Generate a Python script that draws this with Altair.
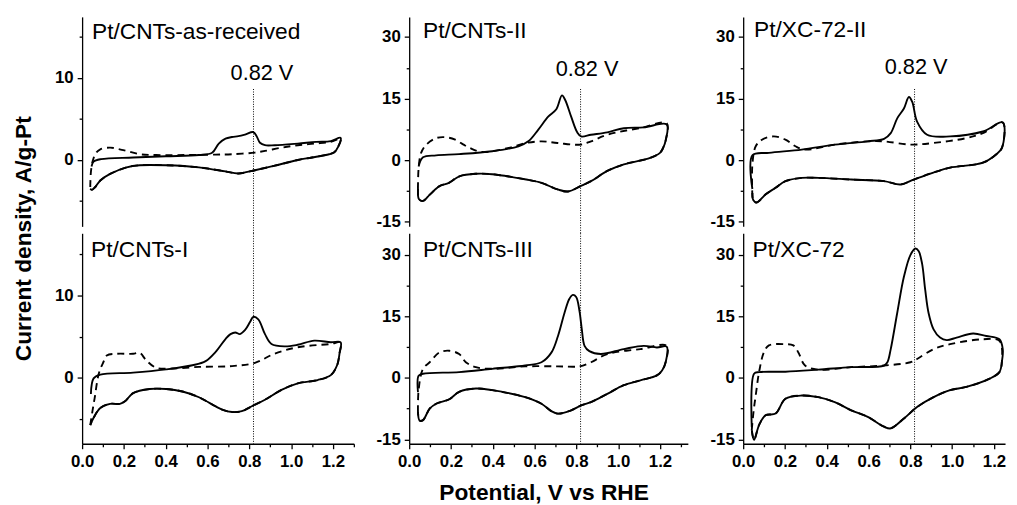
import altair as alt
import pandas as pd

# ---------------- data ----------------
PANEL_LABELS = ["Pt/CNTs-as-received", "Pt/CNTs-II", "Pt/XC-72-II",
                "Pt/CNTs-I", "Pt/CNTs-III", "Pt/XC-72"]
MARK_V = [0.82]
MARK_LABEL = "0.82 V"
X_TITLE = "Potential, V vs RHE"
Y_TITLE = "Current density, A/g-Pt"

X_TICKS = [0.0, 0.1, 0.2, 0.3, 0.4, 0.5, 0.6, 0.7, 0.8, 0.9, 1.0, 1.1, 1.2, 1.3]
Y_TICKS_LEFT = [-5, 0, 5, 10, 15]
Y_TICKS_WIDE = [-15, -7.5, 0, 7.5, 15, 22.5, 30]

# Panel 1: Pt/CNTs-as-received
P1_SOL_V = [0.045, 0.055, 0.09, 0.244, 0.40, 0.559, 0.622, 0.654, 0.686, 0.717, 0.748, 0.78, 0.819, 0.835, 0.851, 0.875, 0.922, 1.032, 1.12, 1.19, 1.237]
P1_SOL_I = [-0.8, -0.2, 0.1, 0.3, 0.45, 0.6, 0.88, 2.0, 2.6, 2.8, 2.9, 3.1, 3.4, 2.9, 2.1, 1.8, 1.8, 2.0, 2.2, 2.3, 2.7]
P1_DSH_V = [0.039, 0.042, 0.050, 0.065, 0.087, 0.134, 0.197, 0.276, 0.354, 0.496, 0.638, 0.717, 0.827, 0.875, 0.954, 1.032, 1.111, 1.19, 1.237]
P1_DSH_I = [-3.3, -1.5, -0.2, 0.8, 1.3, 1.5, 1.2, 0.7, 0.6, 0.6, 0.65, 0.7, 0.9, 1.1, 1.5, 1.8, 2.0, 2.2, 2.6]
P1_CAT_V = [1.225, 1.205, 1.182, 1.10, 1.032, 0.922, 0.827, 0.748, 0.686, 0.559, 0.402, 0.276, 0.213, 0.134, 0.087, 0.063, 0.047, 0.039]
P1_CAT_I = [1.6, 0.9, 0.7, 0.3, 0.0, -0.7, -1.25, -1.65, -1.4, -0.9, -0.65, -0.65, -0.9, -1.7, -2.5, -3.3, -3.65, -3.5]

# Panel 2: Pt/CNTs-II
P2_SOL_V = [0.045, 0.066, 0.129, 0.239, 0.397, 0.523, 0.570, 0.617, 0.665, 0.704, 0.731, 0.747, 0.775, 0.804, 0.823, 0.870, 0.948, 1.027, 1.122, 1.232]
P2_SOL_I = [-1.5, 0.7, 1.2, 1.5, 2.2, 3.4, 4.6, 7.4, 10.6, 12.4, 15.8, 14.6, 10.6, 6.8, 5.8, 6.2, 6.8, 7.8, 8.0, 8.7]
P2_DSH_V = [0.042, 0.045, 0.057, 0.082, 0.13, 0.175, 0.22, 0.26, 0.29, 0.35, 0.476, 0.56, 0.633, 0.71, 0.82, 0.87, 0.948, 1.11, 1.232]
P2_DSH_I = [-7.0, -2.0, 1.8, 3.8, 5.4, 5.6, 5.0, 3.8, 3.0, 2.0, 3.0, 4.2, 4.6, 4.2, 3.8, 4.6, 6.2, 7.9, 9.0]
P2_CAT_V = [1.228, 1.215, 1.2, 1.153, 1.027, 0.948, 0.870, 0.82, 0.76, 0.71, 0.633, 0.56, 0.397, 0.32, 0.24, 0.19, 0.145, 0.10, 0.066, 0.047, 0.042]
P2_CAT_I = [5.0, 3.0, 1.8, 0.56, -1.0, -2.6, -5.1, -6.3, -7.6, -7.1, -5.5, -4.7, -3.4, -3.3, -3.9, -5.5, -6.3, -8.3, -9.9, -9.5, -7.0]

# Panel 3: Pt/XC-72-II
P3_SOL_V = [0.044, 0.044, 0.123, 0.28, 0.438, 0.596, 0.674, 0.706, 0.737, 0.769, 0.793, 0.809, 0.832, 0.88, 0.99, 1.147, 1.242]
P3_SOL_I = [-7.0, 1.2, 1.8, 2.6, 3.8, 4.6, 5.2, 6.6, 10.2, 12.6, 15.4, 14.2, 9.4, 6.2, 5.8, 7.0, 9.2]
P3_DSH_V = [0.044, 0.044, 0.06, 0.09, 0.146, 0.202, 0.25, 0.296, 0.438, 0.596, 0.674, 0.80, 0.91, 1.068, 1.147, 1.242]
P3_DSH_I = [-9.0, -1.0, 3.4, 5.0, 5.8, 5.0, 3.4, 2.6, 3.8, 4.6, 4.6, 3.8, 4.2, 5.4, 6.6, 9.2]
P3_CAT_V = [1.238, 1.21, 1.147, 0.99, 0.91, 0.816, 0.753, 0.674, 0.517, 0.36, 0.28, 0.202, 0.155, 0.108, 0.064, 0.048, 0.044]
P3_CAT_I = [3.0, 1.4, -0.6, -1.8, -3.0, -4.7, -5.9, -5.1, -4.7, -4.3, -4.3, -5.1, -6.7, -8.3, -10.3, -9.7, -8.0]

# Panel 4: Pt/CNTs-I
P4_SOL_V = [0.042, 0.055, 0.087, 0.244, 0.402, 0.528, 0.591, 0.638, 0.686, 0.71, 0.733, 0.755, 0.78, 0.804, 0.819, 0.843, 0.875, 0.906, 0.969, 1.032, 1.111, 1.19, 1.237]
P4_SOL_I = [-2.0, -0.1, 0.36, 0.6, 1.0, 1.5, 2.0, 3.1, 4.7, 5.3, 5.5, 5.3, 5.8, 6.8, 7.4, 7.1, 5.3, 4.1, 3.8, 4.0, 4.5, 4.3, 4.3]
P4_DSH_V = [0.039, 0.05, 0.06, 0.08, 0.102, 0.118, 0.165, 0.244, 0.276, 0.307, 0.354, 0.433, 0.559, 0.717, 0.827, 0.92, 1.032, 1.19, 1.237]
P4_DSH_I = [-5.8, -4.0, -2.5, 0.5, 1.9, 2.7, 2.9, 2.9, 3.0, 2.1, 1.2, 1.1, 1.3, 1.4, 1.8, 2.9, 3.7, 4.1, 4.3]
P4_CAT_V = [1.232, 1.22, 1.19, 1.127, 1.032, 0.954, 0.875, 0.812, 0.764, 0.717, 0.67, 0.638, 0.559, 0.48, 0.402, 0.323, 0.244, 0.205, 0.181, 0.134, 0.087, 0.055, 0.039]
P4_CAT_I = [3.0, 1.5, 0.3, -0.3, -0.7, -1.5, -2.7, -3.5, -4.1, -4.2, -3.9, -3.5, -2.4, -1.7, -1.4, -1.4, -1.9, -2.9, -3.2, -3.2, -3.7, -4.9, -5.8]

# Panel 5: Pt/CNTs-III
P5_SOL_V = [0.042, 0.045, 0.066, 0.239, 0.397, 0.555, 0.633, 0.681, 0.712, 0.743, 0.766, 0.783, 0.799, 0.815, 0.826, 0.839, 0.862, 0.917, 1.027, 1.122, 1.185, 1.232]
P5_SOL_I = [-3.5, 0.5, 1.0, 1.4, 2.2, 3.0, 3.8, 6.2, 10.2, 15.8, 19.2, 20.2, 19.7, 16.2, 11.8, 7.8, 6.5, 5.8, 7.0, 7.8, 7.4, 7.6]
P5_DSH_V = [0.042, 0.045, 0.066, 0.098, 0.145, 0.192, 0.239, 0.271, 0.319, 0.397, 0.555, 0.712, 0.815, 0.87, 0.948, 1.106, 1.232]
P5_DSH_I = [-8.3, -3.0, 2.2, 3.8, 6.2, 6.6, 5.8, 3.8, 2.6, 2.2, 2.8, 2.8, 2.8, 3.8, 5.8, 7.0, 7.8]
P5_CAT_V = [1.228, 1.21, 1.185, 1.106, 1.027, 0.948, 0.87, 0.823, 0.775, 0.712, 0.68, 0.633, 0.555, 0.397, 0.319, 0.239, 0.192, 0.129, 0.098, 0.066, 0.05, 0.042]
P5_CAT_I = [4.0, 1.8, 0.6, -0.6, -1.8, -3.9, -5.9, -6.7, -7.9, -8.7, -8.1, -6.3, -4.7, -3.0, -2.6, -3.4, -5.2, -6.3, -7.5, -10.3, -10.4, -8.3]

# Panel 6: Pt/XC-72
P6_SOL_V = [0.041, 0.052, 0.076, 0.202, 0.359, 0.517, 0.674, 0.69, 0.706, 0.737, 0.769, 0.80, 0.824, 0.84, 0.856, 0.871, 0.887, 0.911, 0.942, 0.974, 1.021, 1.1, 1.163, 1.226, 1.242]
P6_SOL_I = [-12.0, 1.0, 1.4, 1.5, 2.0, 2.6, 3.0, 3.8, 7.0, 15.8, 24.6, 29.9, 31.5, 30.8, 27.8, 21.4, 15.8, 11.8, 9.8, 9.2, 9.8, 10.8, 10.2, 9.4, 7.0]
P6_DSH_V = [0.041, 0.05, 0.06, 0.076, 0.099, 0.123, 0.202, 0.24, 0.264, 0.296, 0.359, 0.517, 0.674, 0.80, 0.832, 0.911, 0.99, 1.147, 1.226]
P6_DSH_I = [-12.7, -8.0, -4.3, 1.4, 6.2, 7.9, 8.2, 7.9, 6.2, 3.0, 2.0, 2.6, 3.0, 3.8, 4.6, 7.0, 8.2, 9.4, 9.0]
P6_CAT_V = [1.238, 1.226, 1.179, 1.068, 0.99, 0.911, 0.832, 0.769, 0.706, 0.674, 0.596, 0.517, 0.438, 0.359, 0.28, 0.202, 0.155, 0.107, 0.076, 0.052, 0.041]
P6_CAT_I = [4.0, 1.4, -0.2, -2.2, -3.0, -4.7, -7.1, -9.9, -12.3, -11.9, -9.5, -7.9, -5.9, -4.7, -4.3, -5.1, -8.7, -9.1, -11.5, -15.1, -12.7]

# ---------------- layout / style ----------------
FONT = "Liberation Sans"
PX_PER_V = 211.5
COL_W = [275, 282, 265]
ROW_H = [212, 213]
ROW_GAP = 7
COL_GAP = 56
Y_DOM = {
    (0, 0): [-8.1, 17.45], (1, 0): [-8.07, 17.59],
    (0, 1): [-16.1, 34.9], (1, 1): [-16.05, 35.2],
}
LABEL_POS = [(10, 22), (14, 21), (11, 20.5), (9, 24), (14, 24), (9.5, 24)]
MARK_POS = [(182, 64), (180, 60), (175, 58)]


def loop_df(av, ai, cv, ci):
    v = list(av) + list(cv)
    i = list(ai) + list(ci)
    return pd.DataFrame({"V": v, "I": i, "k": list(range(len(v)))})


def make_panel(n, sol_v, sol_i, dsh_v, dsh_i, cat_v, cat_i):
    row, col = divmod(n, 3)
    w, h = COL_W[col], ROW_H[row]
    xmax = w / PX_PER_V
    ydom = Y_DOM[(row, 0 if col == 0 else 1)]

    if row == 0:
        xaxis = None
    else:
        vals = [v for v in X_TICKS if v <= xmax + 1e-9]
        xkw = dict(
            values=vals,
            labelExpr="round(datum.value*10) % 2 === 0 ? format(datum.value, '.1f') : ''",
            tickSize={"condition": {"test": "round(datum.value*10) % 2 === 0", "value": 5}, "value": 3},
            labelPadding=5,
            labelFlush=False,
            labelOverlap=False,
        )
        if col == 1:
            xkw.update(title=X_TITLE, titleX=136, titleY=56, titleAlign="center",
                       titleBaseline="alphabetic", titleAnchor="start")
        else:
            xkw.update(title=None)
        xaxis = alt.Axis(**xkw)

    if col == 0:
        yv, ymod = Y_TICKS_LEFT, 10
    else:
        yv, ymod = Y_TICKS_WIDE, 15
    ykw = dict(
        values=yv,
        labelExpr=f"datum.value % {ymod} === 0 ? '' + datum.value : ''",
        tickSize={"condition": {"test": f"datum.value % {ymod} === 0", "value": 5}, "value": 3},
        labelPadding=4,
        labelOverlap=False,
        labelFlush=False,
    )
    if n == 0:
        ykw.update(title=Y_TITLE, titleX=-59, titleY=224, titleAngle=270,
                   titleAlign="center", titleBaseline="middle", titleAnchor="start")
    else:
        ykw.update(title=None)
    yaxis = alt.Axis(**ykw)

    xenc = alt.X("V:Q", scale=alt.Scale(domain=[0, xmax], nice=False, zero=False),
                 axis=xaxis)
    yenc = alt.Y("I:Q", scale=alt.Scale(domain=ydom, nice=False, zero=False),
                 axis=yaxis)

    dsh = alt.Chart(loop_df(dsh_v, dsh_i, cat_v, cat_i)).mark_line(
        color="black", strokeWidth=1.9, strokeDash=[7, 5], interpolate="catmull-rom"
    ).encode(x=xenc, y=yenc, order="k:Q")
    sol = alt.Chart(loop_df(sol_v, sol_i, cat_v, cat_i)).mark_line(
        color="black", strokeWidth=1.9, interpolate="catmull-rom"
    ).encode(x=xenc, y=yenc, order="k:Q")

    if row == 0:
        y0, y1 = 73, h + ROW_GAP
    else:
        y0, y1 = 0, h
    rule = alt.Chart(pd.DataFrame({"V": MARK_V})).mark_rule(
        color="black", strokeWidth=1, strokeDash=[1, 1.5]
    ).encode(x=xenc, y=alt.value(y0), y2=alt.value(y1))

    lx, ly = LABEL_POS[n]
    label = alt.Chart(pd.DataFrame({"t": [PANEL_LABELS[n]]})).mark_text(
        align="left", baseline="alphabetic", font=FONT, fontSize=23, color="black"
    ).encode(x=alt.value(lx), y=alt.value(ly), text="t:N")

    layers = [dsh, sol, rule, label]
    if row == 0:
        mx, my = MARK_POS[col]
        mtxt = alt.Chart(pd.DataFrame({"t": [MARK_LABEL]})).mark_text(
            align="center", baseline="alphabetic", font=FONT, fontSize=22, color="black"
        ).encode(x=alt.value(mx), y=alt.value(my), text="t:N")
        layers.append(mtxt)

    return alt.layer(*layers).properties(width=w, height=h)


panels = [
    make_panel(0, P1_SOL_V, P1_SOL_I, P1_DSH_V, P1_DSH_I, P1_CAT_V, P1_CAT_I),
    make_panel(1, P2_SOL_V, P2_SOL_I, P2_DSH_V, P2_DSH_I, P2_CAT_V, P2_CAT_I),
    make_panel(2, P3_SOL_V, P3_SOL_I, P3_DSH_V, P3_DSH_I, P3_CAT_V, P3_CAT_I),
    make_panel(3, P4_SOL_V, P4_SOL_I, P4_DSH_V, P4_DSH_I, P4_CAT_V, P4_CAT_I),
    make_panel(4, P5_SOL_V, P5_SOL_I, P5_DSH_V, P5_DSH_I, P5_CAT_V, P5_CAT_I),
    make_panel(5, P6_SOL_V, P6_SOL_I, P6_DSH_V, P6_DSH_I, P6_CAT_V, P6_CAT_I),
]

chart = alt.concat(
    *panels, columns=3,
    spacing={"row": ROW_GAP, "column": COL_GAP},
    bounds="flush", align="each",
).properties(
    padding={"left": 5, "top": 6, "right": 0, "bottom": 0},
    background="white",
).configure_view(
    stroke=None
).configure_axis(
    grid=False,
    domainColor="black", domainWidth=1.3,
    tickColor="black", tickWidth=1.3,
    labelColor="black", labelFont=FONT, labelFontSize=17, labelFontWeight="bold",
    titleColor="black", titleFont=FONT, titleFontSize=23, titleFontWeight="bold",
)

chart.save("out.html", embed_options={"renderer": "svg", "actions": False})
